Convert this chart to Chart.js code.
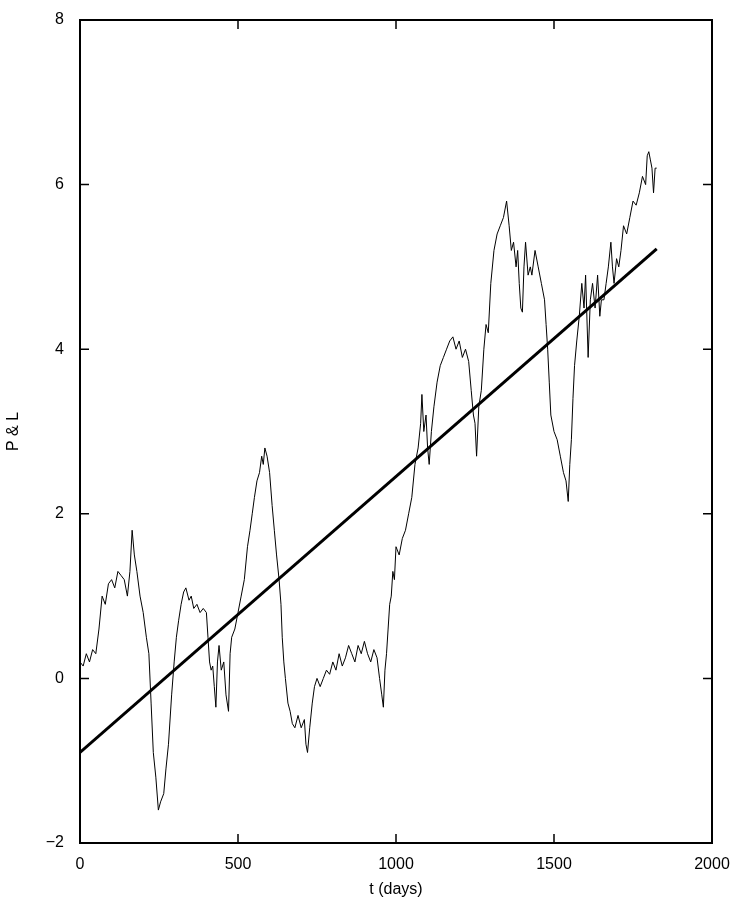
<!DOCTYPE html>
<html>
<head>
<meta charset="utf-8">
<script src="https://cdn.jsdelivr.net/npm/chart.js@4/dist/chart.umd.min.js"></script>
<style>
  html, body { margin: 0; padding: 0; background: #fff; }
  #wrap { width: 739px; height: 903px; }
</style>
</head>
<body>
<div id="wrap"><canvas id="pl"></canvas></div>
<script>
// P & L series (t in days, value)
const days = [0,10,20,30,40,50,60,70,80,90,100,110,120,130,140,150,158,165,172,180,190,200,210,218,225,232,240,248,255,265,272,280,290,298,305,312,320,328,335,345,352,360,370,380,390,400,405,410,415,420,425,430,435,440,447,455,462,470,475,480,490,500,510,520,530,538,545,552,560,568,575,580,585,592,600,608,615,622,630,636,640,645,650,658,665,672,680,690,700,710,715,720,727,735,742,750,760,770,780,790,800,810,820,830,840,850,860,870,880,890,900,910,920,930,940,948,955,960,965,970,975,980,985,990,995,1000,1010,1020,1030,1040,1050,1060,1070,1078,1082,1088,1095,1100,1105,1112,1120,1130,1140,1150,1160,1170,1180,1190,1200,1210,1220,1230,1238,1245,1250,1255,1262,1270,1278,1285,1292,1300,1310,1320,1330,1340,1350,1358,1365,1372,1380,1385,1390,1395,1400,1405,1410,1418,1425,1430,1440,1450,1460,1470,1475,1480,1485,1490,1500,1510,1520,1530,1538,1545,1550,1555,1560,1565,1572,1580,1588,1595,1600,1608,1615,1622,1630,1638,1645,1650,1658,1665,1672,1680,1685,1690,1698,1705,1712,1720,1730,1740,1750,1760,1770,1780,1790,1795,1800,1805,1810,1815,1820,1825];
const pnl = [0.2,0.15,0.3,0.2,0.35,0.3,0.6,1.0,0.9,1.15,1.2,1.1,1.3,1.25,1.2,1.0,1.3,1.8,1.5,1.3,1.0,0.8,0.5,0.3,-0.3,-0.9,-1.2,-1.6,-1.5,-1.4,-1.1,-0.8,-0.2,0.2,0.5,0.7,0.9,1.05,1.1,0.95,1.0,0.85,0.9,0.8,0.85,0.8,0.5,0.2,0.1,0.15,-0.1,-0.35,0.2,0.4,0.1,0.2,-0.2,-0.4,0.3,0.5,0.6,0.8,1.0,1.2,1.6,1.8,2.0,2.2,2.4,2.5,2.7,2.6,2.8,2.7,2.5,2.1,1.8,1.5,1.2,0.9,0.5,0.2,0.0,-0.3,-0.4,-0.55,-0.6,-0.45,-0.6,-0.5,-0.8,-0.9,-0.6,-0.3,-0.1,0.0,-0.1,0.0,0.1,0.05,0.2,0.1,0.3,0.15,0.25,0.4,0.3,0.2,0.4,0.3,0.45,0.3,0.2,0.35,0.25,0.0,-0.2,-0.35,0.1,0.3,0.6,0.9,1.0,1.3,1.2,1.6,1.5,1.7,1.8,2.0,2.2,2.6,2.8,3.1,3.45,3.0,3.2,2.8,2.6,3.0,3.3,3.6,3.8,3.9,4.0,4.1,4.15,4.0,4.1,3.9,4.0,3.85,3.5,3.2,3.1,2.7,3.3,3.5,4.0,4.3,4.2,4.8,5.2,5.4,5.5,5.6,5.8,5.5,5.2,5.3,5.0,5.2,4.8,4.5,4.45,5.0,5.3,4.9,5.0,4.9,5.2,5.0,4.8,4.6,4.3,4.0,3.6,3.2,3.0,2.9,2.7,2.5,2.4,2.15,2.6,2.9,3.4,3.8,4.1,4.4,4.8,4.5,4.9,3.9,4.6,4.8,4.5,4.9,4.4,4.6,4.6,4.8,5.0,5.3,5.0,4.8,5.1,5.0,5.2,5.5,5.4,5.6,5.8,5.75,5.9,6.1,6.0,6.35,6.4,6.3,6.2,5.9,6.2,6.2];
// fitted trend line
const fitDays = [0, 1825];
const fitVals = [-0.9, 5.22];
const xTicks = [0, 500, 1000, 1500, 2000];
const yTicks = [-2, 0, 2, 4, 6, 8];

const font = { family: 'Liberation Sans, Arial, sans-serif', size: 16 };

const frame = {
  id: 'frame',
  afterDraw(chart) {
    const { ctx, chartArea: a, scales: { x, y } } = chart;
    ctx.save();
    ctx.strokeStyle = '#000';
    ctx.lineWidth = 2;
    ctx.strokeRect(a.left, a.top, a.right - a.left, a.bottom - a.top);
    ctx.lineWidth = 1.5;
    ctx.beginPath();
    xTicks.forEach(v => {
      const px = x.getPixelForValue(v);
      ctx.moveTo(px, a.bottom); ctx.lineTo(px, a.bottom - 9);
      ctx.moveTo(px, a.top); ctx.lineTo(px, a.top + 9);
    });
    yTicks.forEach(v => {
      const py = y.getPixelForValue(v);
      ctx.moveTo(a.left, py); ctx.lineTo(a.left + 9, py);
      ctx.moveTo(a.right, py); ctx.lineTo(a.right - 9, py);
    });
    ctx.stroke();
    ctx.restore();
  }
};

new Chart(document.getElementById('pl'), {
  type: 'line',
  data: {
    datasets: [
      {
        data: days.map((d, i) => ({ x: d, y: pnl[i] })),
        borderColor: '#000', borderWidth: 1, pointRadius: 0, tension: 0
      },
      {
        data: fitDays.map((d, i) => ({ x: d, y: fitVals[i] })),
        borderColor: '#000', borderWidth: 3, pointRadius: 0
      }
    ]
  },
  plugins: [frame],
  options: {
    responsive: true,
    maintainAspectRatio: false,
    animation: false,
    layout: { padding: { top: 20, right: 27 } },
    plugins: { legend: { display: false }, tooltip: { enabled: false } },
    scales: {
      x: {
        type: 'linear', min: 0, max: 2000,
        afterBuildTicks: s => { s.ticks = xTicks.map(v => ({ value: v })); },
        afterFit: s => { s.height = 60; },
        grid: { display: false },
        border: { display: false },
        ticks: { color: '#000', font, padding: 4, callback: v => String(v) },
        title: { display: true, text: 't (days)', color: '#000', font, padding: { top: 2 } }
      },
      y: {
        min: -2, max: 8,
        afterBuildTicks: s => { s.ticks = yTicks.map(v => ({ value: v })); },
        afterFit: s => { s.width = 80; },
        grid: { display: false },
        border: { display: false },
        ticks: { color: '#000', font, padding: 8, callback: v => String(v).replace('-', '\u2212') },
        title: { display: true, text: 'P & L', color: '#000', font, padding: { bottom: 8 } }
      }
    }
  }
});
</script>
</body>
</html>
